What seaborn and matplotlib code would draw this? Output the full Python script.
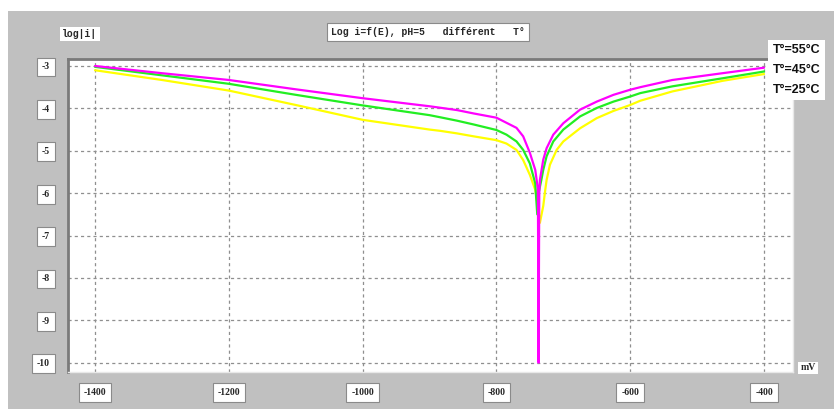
import matplotlib
matplotlib.use("Agg")
import matplotlib.pyplot as plt
from matplotlib.patches import Rectangle
import numpy as np
import pandas as pd
import seaborn as sns

# ---------------- data ----------------
E_55 = [-1400, -1300, -1200, -1100, -1000, -900, -859, -834, -800, -785, -770, -760, -750, -742,
        -738, -737, -736, -735, -730, -725, -715, -700, -675, -650, -625, -600, -585, -537, -462, -400]
logi_55 = [-3.0, -3.17, -3.33, -3.55, -3.76, -3.95, -4.04, -4.12, -4.22, -4.34, -4.46, -4.66, -5.05, -5.45,
           -5.9, -10.0, -6.0, -5.69, -5.21, -4.94, -4.62, -4.35, -4.03, -3.84, -3.68, -3.56, -3.5, -3.33, -3.17, -3.04]

E_45 = [-1400, -1300, -1200, -1100, -1000, -900, -884, -859, -834, -800, -785, -770, -760, -750, -742,
        -739, -737, -733, -730, -725, -715, -700, -675, -650, -625, -600, -585, -537, -462, -400]
logi_45 = [-3.02, -3.22, -3.42, -3.68, -3.93, -4.16, -4.21, -4.29, -4.38, -4.51, -4.62, -4.78, -4.98, -5.3, -5.77,
           -6.5, -6.0, -5.7, -5.45, -5.13, -4.78, -4.5, -4.19, -3.99, -3.84, -3.72, -3.64, -3.48, -3.29, -3.13]

E_25 = [-1400, -1300, -1200, -1100, -1000, -900, -884, -859, -834, -800, -785, -770, -760, -750, -742,
        -738, -735, -730, -727, -725, -720, -710, -700, -675, -650, -625, -600, -585, -537, -462, -400]
logi_25 = [-3.1, -3.33, -3.58, -3.92, -4.27, -4.5, -4.53, -4.59, -4.66, -4.75, -4.83, -4.98, -5.22, -5.57, -5.92,
           -6.3, -6.7, -6.3, -5.92, -5.69, -5.33, -4.98, -4.78, -4.47, -4.23, -4.06, -3.92, -3.82, -3.6, -3.35, -3.19]

series_names = ["T°=25°C", "T°=45°C", "T°=55°C"]
series_colors = ["#ffff00", "#22ee22", "#ff00ff"]

x_ticks = [-1400, -1200, -1000, -800, -600, -400]
y_ticks = [-3, -4, -5, -6, -7, -8, -9, -10]

title_text = "Log i=f(E), pH=5   différent   T°"
ylabel_text = "log|i|"
xlabel_text = "mV"

# ---------------- frame ----------------
rows = []
for name, ex, ly in zip(series_names, [E_25, E_45, E_55], [logi_25, logi_45, logi_55]):
    for e, l in zip(ex, ly):
        rows.append({"E": e, "logi": l, "T": name})
df = pd.DataFrame(rows)

sns.set_theme(style="white")
plt.rcParams["font.family"] = ["DejaVu Sans"]

W, H = 834, 417
fig = plt.figure(figsize=(W / 100, H / 100), dpi=100)
fig.patch.set_facecolor("white")
fig.add_artist(Rectangle((8 / W, 8 / H), 1 - 8 / W, (H - 8 - 11) / H,
                         transform=fig.transFigure, facecolor="#c0c0c0",
                         edgecolor="none", zorder=-10))

L, R, T, B = 68, 793, 59, 372
ax = fig.add_axes([L / W, (H - B) / H, (R - L) / W, (B - T) / H])
ax.set_facecolor("white")

sns.lineplot(data=df, x="E", y="logi", hue="T", hue_order=series_names,
             palette=dict(zip(series_names, series_colors)), sort=False,
             estimator=None, units="T", legend=False, linewidth=1.6, ax=ax)

ax.set_xlim(-1440.4, -356.7)
ax.set_ylim(-10.22, -2.835)
ax.set_xticks(x_ticks)
ax.set_yticks(y_ticks)
ax.set_xlabel("")
ax.set_ylabel("")
ax.grid(True, color="#8f8f8f", linestyle=(0, (2.5, 2.5)), linewidth=0.9)
ax.set_axisbelow(True)
ax.tick_params(length=0)

box = dict(boxstyle="square,pad=0.5", facecolor="white", edgecolor="#8a8a8a", linewidth=0.8)
ax.set_xticklabels([str(v) for v in x_ticks], fontfamily="Liberation Serif",
                   fontweight="bold", fontsize=7)
ax.set_yticklabels([str(v) for v in y_ticks], fontfamily="Liberation Serif",
                   fontweight="bold", fontsize=7)
for lbl in ax.get_xticklabels() + ax.get_yticklabels():
    lbl.set_bbox(box)
ax.tick_params(axis="x", pad=11.5)
ax.tick_params(axis="y", pad=13)

for side in ["top", "left"]:
    ax.spines[side].set_color("#7a7a7a")
    ax.spines[side].set_linewidth(2)
for side in ["bottom", "right"]:
    ax.spines[side].set_color("#e8e8e8")
    ax.spines[side].set_linewidth(1)

# texts
fig.text(80 / W, 1 - 34 / H, ylabel_text, ha="center", va="center",
         fontfamily="Liberation Mono", fontweight="bold", fontsize=7,
         bbox=dict(boxstyle="square,pad=0.25", facecolor="white", edgecolor="none"))
fig.text(428 / W, 1 - 32 / H, title_text, ha="center", va="center",
         fontfamily="Liberation Mono", fontweight="bold", fontsize=7,
         bbox=dict(boxstyle="square,pad=0.45", facecolor="white", edgecolor="#8a8a8a", linewidth=0.8))
fig.text(808 / W, 1 - 368 / H, xlabel_text, ha="center", va="center",
         fontfamily="Liberation Serif", fontweight="bold", fontsize=7,
         bbox=dict(boxstyle="square,pad=0.2", facecolor="white", edgecolor="none"))

fig.add_artist(Rectangle((768 / W, 1 - 100 / H), 57 / W, 60 / H, transform=fig.transFigure,
                         facecolor="white", edgecolor="none", zorder=5))
for name, yp in zip(series_names[::-1], [50, 70, 90]):
    fig.text(797 / W, 1 - yp / H, name, ha="center", va="center", fontsize=9,
             fontfamily="Liberation Sans", fontweight="bold", color="#111111", zorder=6)

fig.savefig("out.png", dpi=100)
